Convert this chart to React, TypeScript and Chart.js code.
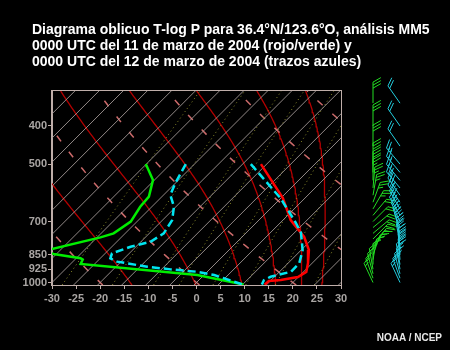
import { useEffect, useRef } from "react";
import { Chart, registerables } from "chart.js";

Chart.register(...registerables);

const TITLE_LINES = [
  "Diagrama oblicuo T-log P para 36.4°N/123.6°O, análisis MM5",
  "0000 UTC del 11 de marzo de 2004 (rojo/verde) y",
  "0000 UTC del 12 de marzo de 2004 (trazos azules)",
];
const CREDIT = "NOAA / NCEP";

const pressureTicks = [400, 500, 700, 850, 925, 1000];
const temperatureTicks = [-30, -25, -20, -15, -10, -5, 0, 5, 10, 15, 20, 25, 30];

// 11 March temperature (red)
const tempPres11 = [500, 610, 694, 766, 827, 892, 940, 968, 986, 991, 1013];
const tempVal11 = [-11.2, 0.4, 6.6, 12.9, 16.6, 19.1, 20.6, 19.9, 17.0, 14.7, 14.6];
// 11 March dew point (green)
const dewPres11 = [500, 549, 605, 642, 700, 750, 768, 822, 834, 846, 868, 874, 897, 957, 1012];
const dewVal11 = [-35.1, -30.3, -27.7, -27.4, -26.3, -27.4, -29.3, -37.0, -37.8, -35.6, -29.1, -28.4, -27.9, -1.4, 10.2];
// 12 March temperature (cyan dashed)
const tempPres12 = [500, 611, 706, 748, 827, 892, 939, 967, 986, 1012];
const tempVal12 = [-13.3, 0.0, 8.3, 11.4, 15.3, 17.3, 17.4, 14.2, 13.5, 14.0];
// 12 March dew point (cyan dashed)
const dewPres12 = [500, 560, 599, 642, 694, 750, 788, 811, 843, 868, 885, 912, 926, 939, 957, 1012];
const dewVal12 = [-26.8, -25.0, -23.6, -20.4, -18.0, -17.0, -18.0, -21.1, -23.6, -22.9, -20.8, -13.5, -8.1, -2.1, 2.1, 10.0];

// Winds (direction in degrees, speed in knots)
const windPres11 = [350, 400, 450, 500, 525, 550, 575, 600, 625, 650, 675, 700, 725, 750, 775, 800, 825, 850, 875, 900, 925, 950, 975, 1000];
const windDir11 = [0, 0, 0, 0, 0, 0, 5, 10, 20, 30, 40, 45, 50, 50, 45, 40, 30, 20, 10, 0, 350, 345, 340, 335];
const windSpd11 = [30, 30, 30, 30, 30, 25, 25, 25, 25, 25, 20, 20, 20, 20, 20, 15, 15, 15, 15, 15, 15, 15, 15, 15];
const windPres12 = [350, 400, 450, 500, 525, 550, 575, 600, 625, 650, 675, 700, 725, 750, 775, 800, 825, 850, 875, 900, 925, 950, 975, 1000];
const windDir12 = [325, 325, 325, 320, 320, 320, 320, 325, 325, 330, 330, 335, 340, 345, 350, 350, 355, 355, 355, 350, 350, 345, 340, 335];
const windSpd12 = [20, 20, 20, 25, 25, 25, 30, 30, 30, 30, 30, 30, 30, 30, 30, 30, 30, 30, 30, 25, 25, 20, 20, 15];

// Background reference lines
const isothermValues = [-120, -115, -110, -105, -100, -95, -90, -85, -80, -75, -70, -65, -60, -55, -50, -45, -40, -35, -30, -25, -20, -15, -10, -5, 0, 5, 10, 15, 20, 25, 30];
const dryAdiabatThetaC = [-40, -20, 0, 20, 40, 60, 80, 100];
const moistThetaE = [263, 283, 303, 323, 343, 363];
const mixingRatios = [0.4, 1, 2, 3, 5, 8, 12, 20];

const P_TOP = 326;
const P_BOTTOM = 1014.7;
const SKEW = 35.46;

const Rd = 287.04;
const Cp = 1005.7;
const Lv = 2.501e6;
const EPS = 0.622;

const skewX = (t: number, p: number) => t + SKEW * Math.log(1000 / p);
const es = (tc: number) => 6.112 * Math.exp((17.67 * tc) / (tc + 243.5));
const rs = (tc: number, p: number) => { const e = es(tc); return (EPS * e) / (p - e); };
const profile = (ps: number[], ts: number[]) => ps.map((p, i) => ({ x: skewX(ts[i], p), y: p }));

const samplePressures = (() => {
  const out: number[] = [];
  const n = 40;
  for (let i = 0; i <= n; i++) out.push(P_BOTTOM * Math.exp((Math.log(P_TOP / P_BOTTOM) * i) / n));
  return out;
})();

const thetaE = (tc: number, p: number) => {
  const tk = tc + 273.15;
  const r = rs(tc, p) * 1000;
  const th = tk * Math.pow(1000 / p, 0.2854 * (1 - 0.00028 * r));
  return th * Math.exp((3.376 / tk - 0.00254) * r * (1 + 0.00081 * r));
};

const moistLine = (te: number) => {
  let lo = -60, hi = 45;
  for (let k = 0; k < 60; k++) {
    const mid = (lo + hi) / 2;
    if (thetaE(mid, 1000) > te) hi = mid; else lo = mid;
  }
  const t0 = (lo + hi) / 2;
  const dT = (tk: number, p: number) => {
    const r = rs(tk - 273.15, p);
    return (Rd * tk + Lv * r) / (Cp + (Lv * Lv * r * EPS) / (Rd * tk * tk));
  };
  const pts: { x: number; y: number }[] = [];
  const steps = 80;
  let tk = t0 + 273.15;
  let lnp = Math.log(1000);
  const hBot = (Math.log(P_BOTTOM) - lnp) / 4;
  let tb = tk, lb = lnp;
  for (let i = 0; i < 4; i++) {
    const k1 = dT(tb, Math.exp(lb));
    const k2 = dT(tb + k1 * hBot, Math.exp(lb + hBot));
    tb += ((k1 + k2) / 2) * hBot; lb += hBot;
  }
  pts.push({ x: skewX(tb - 273.15, P_BOTTOM), y: P_BOTTOM });
  const h = (Math.log(P_TOP) - lnp) / steps;
  pts.push({ x: skewX(tk - 273.15, 1000), y: 1000 });
  for (let i = 0; i < steps; i++) {
    const k1 = dT(tk, Math.exp(lnp));
    const k2 = dT(tk + k1 * h, Math.exp(lnp + h));
    tk += ((k1 + k2) / 2) * h; lnp += h;
    pts.push({ x: skewX(tk - 273.15, Math.exp(lnp)), y: Math.exp(lnp) });
  }
  return pts;
};

const dryLine = (thC: number) =>
  samplePressures.map((p) => ({ x: skewX((thC + 273.15) * Math.pow(p / 1000, 0.2857) - 273.15, p), y: p }));

const mixLine = (w: number) =>
  samplePressures.map((p) => {
    const e = (w * p) / (622 + w);
    const l = Math.log(e / 6.112);
    return { x: skewX((243.5 * l) / (17.67 - l), p), y: p };
  });

const FRAME = "#bfaea9";
const LABEL = "#a9a5a3";
const FONT = '"Liberation Sans", Arial, sans-serif';

const bg = (data: { x: number; y: number }[], color: string, width: number, dash: number[] = []) => ({
  data, borderColor: color, borderWidth: width, borderDash: dash, showLine: true, pointRadius: 0,
  tension: 0, order: 10, clip: 0,
});

const drawBarbs = (ctx: CanvasRenderingContext2D, x0: number, yScale: any, ps: number[], dirs: number[], spds: number[], color: string) => {
  ctx.save();
  ctx.strokeStyle = color;
  ctx.fillStyle = color;
  ctx.lineWidth = 1;
  const L = 21;
  ps.forEach((p, i) => {
    const y = yScale.getPixelForValue(p);
    const a = (dirs[i] * Math.PI) / 180;
    const ux = Math.sin(a), uy = -Math.cos(a);
    const px = -uy, py = ux;
    const bx = px * 0.87 + ux * 0.5, by = py * 0.87 + uy * 0.5;
    ctx.beginPath();
    ctx.moveTo(x0, y);
    ctx.lineTo(x0 + ux * L, y + uy * L);
    let s = Math.round(spds[i] / 5) * 5;
    let d = L;
    while (s >= 50) {
      const sx = x0 + ux * d, sy = y + uy * d;
      ctx.moveTo(sx, sy);
      ctx.lineTo(sx + px * 8, sy + py * 8);
      ctx.lineTo(x0 + ux * (d - 4), y + uy * (d - 4));
      s -= 50; d -= 5;
    }
    while (s >= 10) {
      const sx = x0 + ux * d, sy = y + uy * d;
      ctx.moveTo(sx, sy);
      ctx.lineTo(sx + bx * 9, sy + by * 9);
      s -= 10; d -= 3;
    }
    if (s >= 5) {
      if (d === L) d -= 3;
      const sx = x0 + ux * d, sy = y + uy * d;
      ctx.moveTo(sx, sy);
      ctx.lineTo(sx + bx * 5, sy + by * 5);
    }
    ctx.stroke();
  });
  ctx.restore();
};

const framePlugin = {
  id: "skewFrame",
  afterDraw(chart: any) {
    const { ctx, chartArea: a, scales } = chart;
    ctx.save();
    ctx.strokeStyle = FRAME;
    ctx.lineWidth = 1;
    ctx.strokeRect(Math.round(a.left) - 0.5, Math.round(a.top) - 0.5, Math.round(a.right - a.left) + 1, Math.round(a.bottom - a.top) + 1);
    ctx.restore();
    drawBarbs(ctx, a.right + 32, scales.y, windPres11, windDir11, windSpd11, "#22dd22");
    drawBarbs(ctx, a.right + 59, scales.y, windPres12, windDir12, windSpd12, "#22ccdd");
  },
};

export default function App() {
  const ref = useRef<HTMLCanvasElement | null>(null);
  useEffect(() => {
    document.body.style.margin = "0";
    document.body.style.background = "#000";
    const canvas = ref.current;
    if (!canvas) return;
    const datasets: any[] = [];
    isothermValues.forEach((t) =>
      datasets.push(bg([{ x: skewX(t, P_BOTTOM), y: P_BOTTOM }, { x: skewX(t, P_TOP), y: P_TOP }], "rgba(170,160,158,0.85)", 1)));
    mixingRatios.forEach((w) => datasets.push(bg(mixLine(w), "#8c8c2a", 1, [1, 3])));
    dryAdiabatThetaC.forEach((t) => datasets.push(bg(dryLine(t), "#cc6a6a", 1.5, [7, 13])));
    moistThetaE.forEach((t) => datasets.push(bg(moistLine(t), "#b40000", 1.3)));
    const snd = (data: any[], color: string, dash: number[] = [], order = 1) => ({
      data, borderColor: color, borderWidth: 2.5, borderDash: dash, showLine: true, pointRadius: 0, tension: 0, order,
    });
    datasets.push(snd(profile(tempPres11, tempVal11), "#ff0000", [], 2));
    datasets.push(snd(profile(dewPres11, dewVal11), "#00ee00", [], 2));
    datasets.push(snd(profile(tempPres12, tempVal12), "#00e5f0", [8, 4], 1));
    datasets.push(snd(profile(dewPres12, dewVal12), "#00e5f0", [8, 4], 1));

    const tickFont = { family: FONT, size: 11, weight: "bold" as const };
    const chart = new Chart(canvas, {
      type: "scatter",
      data: { datasets },
      options: {
        animation: false,
        responsive: false,
        devicePixelRatio: 1,
        layout: { padding: { left: 8, right: 109, top: 91, bottom: 0 } },
        plugins: { legend: { display: false }, tooltip: { enabled: false }, title: { display: false } },
        scales: {
          x: {
            type: "linear", min: -30, max: 30,
            afterBuildTicks: (s: any) => { s.ticks = temperatureTicks.map((v) => ({ value: v })); },
            afterFit: (s: any) => { s.height = 65; },
            grid: { display: true, drawOnChartArea: false, drawTicks: true, tickLength: 4, color: FRAME },
            border: { display: true, color: FRAME },
            ticks: { color: LABEL, font: tickFont, padding: 3, maxRotation: 0, autoSkip: false, callback: (v: any) => String(v) },
          },
          y: {
            type: "logarithmic", reverse: true, min: P_TOP, max: P_BOTTOM,
            afterBuildTicks: (s: any) => { s.ticks = pressureTicks.map((v) => ({ value: v })); },
            afterFit: (s: any) => { s.width = 44; },
            grid: { display: true, drawOnChartArea: false, drawTicks: true, tickLength: 4, color: FRAME },
            border: { display: true, color: FRAME },
            ticks: { color: LABEL, font: tickFont, padding: 1, autoSkip: false, callback: (v: any) => String(v) },
          },
        },
      },
      plugins: [framePlugin],
    });
    return () => chart.destroy();
  }, []);

  return (
    <div style={{ position: "fixed", left: 0, top: 0, width: 450, height: 350, background: "#000", overflow: "hidden" }}>
      <canvas ref={ref} width={450} height={350} style={{ display: "block", width: 450, height: 350 }} />
      <div style={{ position: "absolute", left: 32, top: 20.5, color: "#fff", fontFamily: FONT, fontWeight: "bold", fontSize: 14, lineHeight: "16px", whiteSpace: "nowrap" }}>
        {TITLE_LINES.map((t) => (<div key={t}>{t}</div>))}
      </div>
      <div style={{ position: "absolute", right: 8, top: 332, color: "#e8e8e8", fontFamily: FONT, fontWeight: "bold", fontSize: 10, lineHeight: "12px", whiteSpace: "nowrap" }}>
        {CREDIT}
      </div>
    </div>
  );
}
